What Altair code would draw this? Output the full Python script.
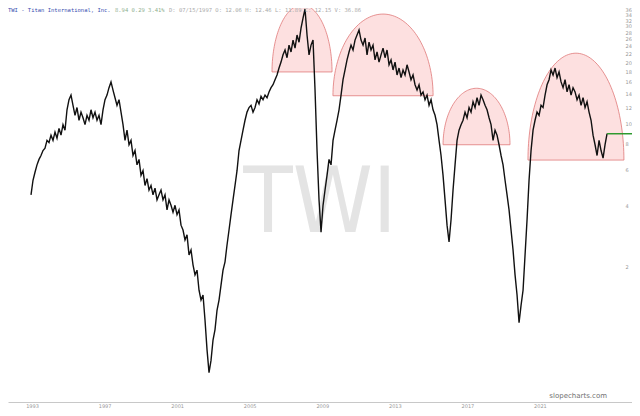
import altair as alt
import pandas as pd
import numpy as np

# ---- data ----
prices = [
    4.5, 5.3, 5.8, 6.3, 6.7, 7.0, 7.4, 7.6, 8.3, 8.1, 8.8, 8.3, 9.1, 8.5, 9.5, 8.8, 9.9, 9.3,
    11.7, 13.1, 13.8, 12.3, 11.0, 12.0, 10.4, 11.4, 10.7, 9.9, 11.0, 10.4, 11.7, 10.7, 11.4, 10.4,
    11.0, 9.9, 11.7, 13.1, 13.8, 15.0, 16.0, 14.6, 13.4, 12.3, 13.1, 11.4, 9.9, 8.3, 9.3, 7.9,
    8.3, 7.0, 7.4, 6.3, 6.7, 5.6, 5.9, 5.0, 5.4, 4.75, 5.0, 4.5, 4.85, 4.25, 4.5, 4.75, 4.25,
    4.5, 3.8, 4.25, 4.0, 3.7, 4.0, 3.6, 3.8, 3.2, 3.03, 2.71, 2.87, 2.29, 2.42, 2.05, 1.83, 1.93,
    1.54, 1.38, 1.46, 1.10, 0.79, 0.61, 0.70, 0.88, 0.99, 1.23, 1.38, 1.63, 1.93, 2.12, 2.56,
    3.03, 3.6, 4.25, 5.0, 5.9, 7.4, 8.3, 9.3, 10.4, 11.4, 12.0, 12.3, 11.4, 12.0, 13.1, 12.5,
    13.6, 13.1, 13.8, 13.4, 14.3, 15.0, 15.5, 16.4, 17.3, 18.7, 20.0, 21.7, 22.9, 21.0, 24.2,
    22.4, 25.6, 23.4, 27.1, 25.0, 29.3, 32.8, 36.3, 27.1, 21.7, 24.2, 25.6, 14.6, 7.4, 4.25,
    2.96, 4.0, 4.75, 5.6, 6.7, 6.3, 8.3, 9.3, 10.4, 11.7, 13.8, 16.4, 18.3, 20.5, 22.4, 24.2,
    22.9, 25.6, 27.1, 28.7, 25.6, 24.2, 26.2, 21.7, 25.0, 22.9, 24.2, 20.5, 22.4, 20.0, 21.7,
    23.4, 21.0, 22.9, 19.4, 20.5, 18.3, 20.0, 17.3, 18.7, 16.8, 18.3, 17.3, 19.4, 17.9, 16.4,
    17.3, 15.5, 14.6, 15.5, 13.8, 14.3, 13.1, 13.8, 12.3, 13.1, 11.7, 11.0, 9.9, 8.3, 7.0, 5.6,
    4.25, 3.2, 2.65, 3.4, 4.75, 6.3, 8.3, 9.3, 9.9, 10.4, 11.4, 10.7, 12.0, 11.4, 12.8, 12.0,
    13.4, 12.3, 13.8, 13.1, 12.3, 11.7, 10.7, 9.9, 8.3, 9.3, 8.8, 7.9, 7.0, 6.3, 5.3, 4.5, 3.8,
    3.03, 2.42, 1.83, 1.46, 1.07, 1.30, 1.54, 2.29, 3.4, 5.3, 7.4, 9.3, 10.4, 11.4, 11.0, 12.3,
    12.0, 13.8, 15.5, 16.4, 18.3, 17.3, 18.7, 16.8, 17.9, 16.0, 15.0, 16.4, 14.3, 15.5, 13.8,
    15.0, 14.3, 13.1, 13.8, 12.3, 13.4, 12.0, 12.8, 11.4, 10.4, 8.8, 7.9, 7.0, 8.3, 7.4, 6.8,
    7.9, 8.94,
]
first_year = 1992.945
last_year = 2024.70
last_price = 8.94

x_tick_years = [1993, 1997, 2001, 2005, 2009, 2013, 2017, 2021]
y_tick_prices = [2, 4, 6, 8, 10, 12, 14, 16, 18, 20, 22, 24, 26, 28, 30, 32, 34, 36]

dome_start = [2006.23, 2009.59, 2015.66, 2020.34]
dome_end = [2009.54, 2015.11, 2019.35, 2025.63]
dome_base = [17.9, 13.7, 7.9, 6.65]
dome_top = [38.0, 34.3, 14.9, 22.1]

header_title = "TWI - Titan International, Inc."
header_change = "8.94 0.29 3.41%"
header_ohlc = "D: 07/15/1997 O: 12.06 H: 12.46 L: 11.89 C: 12.15 V: 36.86"
watermark = "TWI"
credit = "slopecharts.com"

# ---- layout ----
W, H = 624, 394
x_domain = [1991.677, 2026.075]
y_domain = [0.4387, 36.72]

years = np.linspace(first_year, last_year, len(prices))
price_df = pd.DataFrame({"year": years, "price": prices})

rows = []
for i in range(len(dome_start)):
    c = (dome_start[i] + dome_end[i]) / 2
    r = (dome_end[i] - dome_start[i]) / 2
    lb, lt = np.log(dome_base[i]), np.log(dome_top[i])
    for t in np.linspace(np.pi, 0, 81):
        rows.append({"dome": i, "year": c + r * np.cos(t),
                     "price": float(np.exp(lb + (lt - lb) * np.sin(t))),
                     "base": dome_base[i]})
dome_df = pd.DataFrame(rows)
base_df = pd.DataFrame({"x": dome_start, "x2": dome_end, "y": dome_base})

xs = alt.Scale(domain=x_domain, nice=False, zero=False)
ys = alt.Scale(type="log", domain=y_domain, nice=False, zero=False)

x_axis = alt.Axis(values=x_tick_years, format="d", labelFontSize=5, labelColor="#999",
                  ticks=False, grid=False, domainColor="#c8c8c8", domainWidth=1,
                  labelPadding=1, title=None, labelFont="DejaVu Sans")
y_axis = alt.Axis(orient="right", values=y_tick_prices, format="d", labelFontSize=5,
                  labelColor="#999", ticks=False, grid=False, domain=False, offset=-7,
                  labelPadding=0, title=None, labelFont="DejaVu Sans")

def ex(f):
    return alt.X(f, scale=xs, axis=x_axis)

def ey(f):
    return alt.Y(f, scale=ys, axis=y_axis)

wm = alt.Chart(pd.DataFrame({"t": [watermark]})).mark_text(
    font="'DejaVu Sans Condensed', Roboto, sans-serif", fontSize=90,
    color="#e4e4e4", align="center", baseline="middle"
).encode(x=alt.value(312), y=alt.value(197), text="t:N")

dome_fill = alt.Chart(dome_df).mark_area(fill="#fde0e0", opacity=1, strokeWidth=0).encode(
    x=ex("year:Q"),
    y=alt.Y("price:Q", scale=ys, axis=y_axis, stack=None),
    y2="base:Q",
    detail="dome:N",
)
dome_arc = alt.Chart(dome_df).mark_line(color="#e07878", strokeWidth=0.8).encode(
    x=ex("year:Q"), y=ey("price:Q"), detail="dome:N"
)
dome_base_line = alt.Chart(base_df).mark_rule(color="#e07878", strokeWidth=0.8).encode(
    x=ex("x:Q"), x2="x2:Q", y=ey("y:Q")
)

line = alt.Chart(price_df).mark_line(color="#111", strokeWidth=1.4).encode(
    x=ex("year:Q"), y=ey("price:Q")
)

green = alt.Chart(pd.DataFrame({"x": [last_year], "x2": [x_domain[1]], "y": [last_price]})).mark_rule(
    color="#2e9a2e", strokeWidth=1.5
).encode(x=ex("x:Q"), x2="x2:Q", y=ey("y:Q"))

t1 = alt.Chart(pd.DataFrame({"t": [header_title]})).mark_text(
    font="DejaVu Sans Mono", fontSize=5.5, color="#3a4fb0", align="left", baseline="top"
).encode(x=alt.value(0), y=alt.value(0), text="t:N")
t2 = alt.Chart(pd.DataFrame({"t": [header_change]})).mark_text(
    font="DejaVu Sans Mono", fontSize=5.5, color="#8fb08f", align="left", baseline="top"
).encode(x=alt.value(107), y=alt.value(0), text="t:N")
t3 = alt.Chart(pd.DataFrame({"t": [header_ohlc]})).mark_text(
    font="DejaVu Sans Mono", fontSize=5.5, color="#aaa", align="left", baseline="top"
).encode(x=alt.value(161), y=alt.value(0), text="t:N")

cr = alt.Chart(pd.DataFrame({"t": [credit]})).mark_text(
    font="DejaVu Sans", fontSize=7, color="#707070", align="right", baseline="middle"
).encode(x=alt.value(599), y=alt.value(388), text="t:N")

chart = alt.layer(wm, dome_fill, dome_arc, dome_base_line, line, green, t1, t2, t3, cr).properties(
    width=W, height=H,
    autosize=alt.AutoSizeParams(type="none"),
    padding={"left": 0, "top": 0, "right": 0, "bottom": 6},
    background="white",
).configure_view(strokeWidth=0)

chart.save("out.html", embed_options={"renderer": "svg", "actions": False})
